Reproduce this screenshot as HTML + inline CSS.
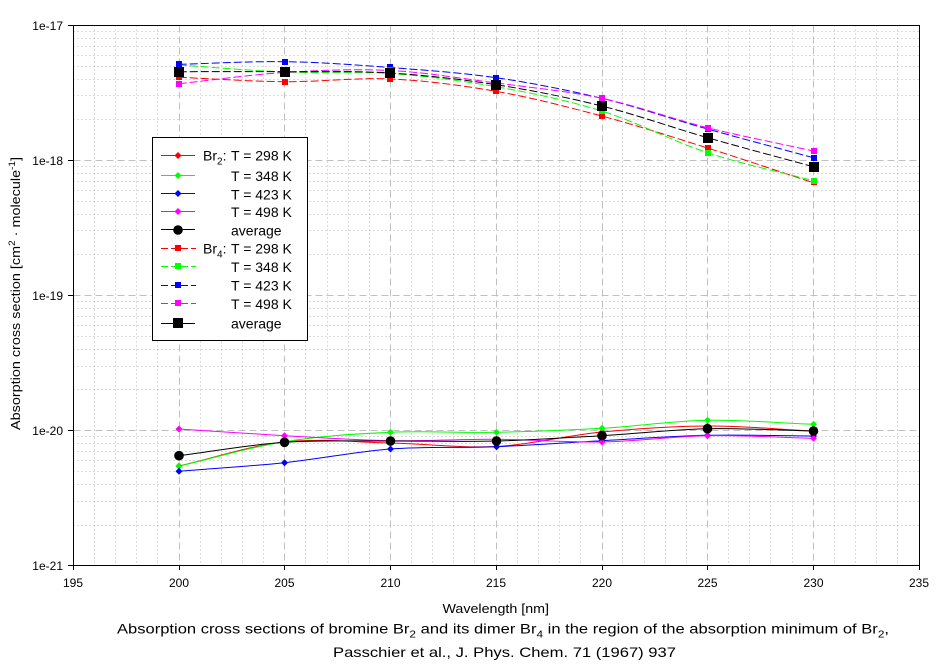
<!DOCTYPE html>
<html><head><meta charset="utf-8"><style>
html,body{margin:0;padding:0;background:#fff;}
svg{display:block;font-family:"Liberation Sans",Arial,sans-serif;}
</style></head><body>
<svg width="944" height="670" viewBox="0 0 944 670" xmlns="http://www.w3.org/2000/svg">
<rect width="944" height="670" fill="#fff"/>
<!-- minor grid -->
<g stroke="#b8b8b8" stroke-width="1" stroke-dasharray="1,3" fill="none" shape-rendering="crispEdges">
<path d="M94.5 25.5V565.5M115.5 25.5V565.5M136.5 25.5V565.5M157.5 25.5V565.5M200.5 25.5V565.5M221.5 25.5V565.5M242.5 25.5V565.5M263.5 25.5V565.5M305.5 25.5V565.5M327.5 25.5V565.5M348.5 25.5V565.5M369.5 25.5V565.5M411.5 25.5V565.5M432.5 25.5V565.5M453.5 25.5V565.5M474.5 25.5V565.5M517.5 25.5V565.5M538.5 25.5V565.5M559.5 25.5V565.5M580.5 25.5V565.5M622.5 25.5V565.5M644.5 25.5V565.5M665.5 25.5V565.5M686.5 25.5V565.5M728.5 25.5V565.5M749.5 25.5V565.5M770.5 25.5V565.5M792.5 25.5V565.5M834.5 25.5V565.5M855.5 25.5V565.5M876.5 25.5V565.5M897.5 25.5V565.5"/>
<path d="M73.5 525.5H919.5M73.5 501.5H919.5M73.5 484.5H919.5M73.5 471.5H919.5M73.5 460.5H919.5M73.5 451.5H919.5M73.5 443.5H919.5M73.5 436.5H919.5M73.5 389.5H919.5M73.5 366.5H919.5M73.5 349.5H919.5M73.5 336.5H919.5M73.5 325.5H919.5M73.5 316.5H919.5M73.5 308.5H919.5M73.5 301.5H919.5M73.5 254.5H919.5M73.5 230.5H919.5M73.5 214.5H919.5M73.5 201.5H919.5M73.5 190.5H919.5M73.5 181.5H919.5M73.5 173.5H919.5M73.5 166.5H919.5M73.5 119.5H919.5M73.5 95.5H919.5M73.5 79.5H919.5M73.5 66.5H919.5M73.5 55.5H919.5M73.5 46.5H919.5M73.5 38.5H919.5M73.5 31.5H919.5"/>
</g>
<!-- major grid -->
<g stroke="#c0c0c0" stroke-width="1" stroke-dasharray="7,4" fill="none" shape-rendering="crispEdges">
<path d="M179.5 25.5V565.5M284.5 25.5V565.5M390.5 25.5V565.5M496.5 25.5V565.5M602.5 25.5V565.5M707.5 25.5V565.5M813.5 25.5V565.5"/>
<path d="M73.5 160.5H919.5M73.5 295.5H919.5M73.5 430.5H919.5"/>
</g>

<!-- Br2 series (solid) -->
<g fill="none" stroke-width="1">
<path stroke="#ff0000" d="M178.75 466C214 458 249.3 445.8 284.5 442C319.8 438.2 355 442.25 390.25 443C425.5 443.75 460.8 448.3 496 446.5C531.3 444.7 566.5 435.4 601.75 432C637 428.6 672.3 426.2 707.5 426C742.8 425.8 778 429.3 813.25 431"/>
<path stroke="#00ff00" d="M178.75 466.3C214 458.1 249.3 447.4 284.5 441.7C319.8 436 355 433.9 390.25 432.3C425.5 430.7 460.8 433 496 432.3C531.3 431.6 566.5 430.3 601.75 428.3C637 426.3 672.3 421 707.5 420.3C742.8 419.6 778 423 813.25 424.3"/>
<path stroke="#0000ff" d="M178.75 471.3C214 468.4 249.3 466.4 284.5 462.7C319.8 459 355 451.7 390.25 449C425.5 446.3 460.8 448.1 496 446.7C531.3 445.3 566.5 442.6 601.75 440.7C637 438.8 672.3 436.1 707.5 435.3C742.8 434.5 778 435.8 813.25 436"/>
<path stroke="#ff00ff" d="M178.75 429C214 431.2 249.3 433.75 284.5 435.7C319.8 437.65 355 440.1 390.25 440.7C425.5 441.3 460.8 439.1 496 439.3C531.3 439.5 566.5 442.6 601.75 442C637 441.4 672.3 436.3 707.5 435.7C742.8 435.1 778 437.4 813.25 438.3"/>
<path stroke="#000000" d="M178.75 455.7C214 451.2 249.3 444.75 284.5 442.3C319.8 439.85 355 441.2 390.25 441C425.5 440.8 460.8 441.9 496 441C531.3 440.1 566.5 437.75 601.75 435.7C637 433.65 672.3 429.5 707.5 428.7C742.8 427.9 778 430.2 813.25 431"/>
</g>
<!-- Br4 series (dashed) -->
<g fill="none" stroke-width="1" stroke-dasharray="8,3">
<path stroke="#ff0000" d="M178.75 77.3C214 78.8 249.3 81.4 284.5 81.7C319.8 82 355 77.4 390.25 79C425.5 80.6 460.8 85.1 496 91.3C531.3 97.5 566.5 106.6 601.75 116C637 125.5 672.3 136.9 707.5 148C742.8 159.1 778 171.1 813.25 182.7"/>
<path stroke="#00ff00" d="M178.75 65C214 67.3 249.3 70.6 284.5 72C319.8 73.4 355 71.1 390.25 73.5C425.5 76 460.8 80.5 496 86.7C531.3 93 566.5 100 601.75 111C637 122 672.3 141.1 707.5 152.7C742.8 164.3 778 171.4 813.25 180.7"/>
<path stroke="#0000ff" d="M178.75 64.3C214 63.4 249.3 61.2 284.5 61.7C319.8 62.2 355 64.8 390.25 67.5C425.5 70.2 460.8 72.6 496 77.7C531.3 82.8 566.5 89.8 601.75 98.3C637 106.9 672.3 119.1 707.5 129C742.8 138.9 778 148.1 813.25 157.7"/>
<path stroke="#ff00ff" d="M178.75 83.7C214 80 249.3 74.7 284.5 72.5C319.8 70.3 355 68.75 390.25 70.5C425.5 72.25 460.8 78.4 496 83C531.3 87.6 566.5 90.9 601.75 98.3C637 105.8 672.3 118.9 707.5 127.7C742.8 136.5 778 143.2 813.25 151"/>
<path stroke="#000000" d="M178.75 71.7C214 71.7 249.3 71.5 284.5 71.7C319.8 71.9 355 70.8 390.25 73C425.5 75.2 460.8 79.2 496 84.7C531.3 90.2 566.5 97.2 601.75 106C637 114.8 672.3 127.6 707.5 137.7C742.8 147.8 778 157 813.25 166.7"/>
</g>

<!-- Br2 markers: diamonds -->
<g fill="#ff0000">
<path d="M179 462.5l3.5 3.5-3.5 3.5-3.5-3.5zM284.5 438.5l3.5 3.5-3.5 3.5-3.5-3.5zM390.5 439.5l3.5 3.5-3.5 3.5-3.5-3.5zM496.5 443l3.5 3.5-3.5 3.5-3.5-3.5zM602 428.5l3.5 3.5-3.5 3.5-3.5-3.5zM707.5 422.5l3.5 3.5-3.5 3.5-3.5-3.5zM813.5 427.5l3.5 3.5-3.5 3.5-3.5-3.5z"/>
</g>
<g fill="#00ff00">
<path d="M179 462.8l3.5 3.5-3.5 3.5-3.5-3.5zM284.5 438.2l3.5 3.5-3.5 3.5-3.5-3.5zM390.5 428.8l3.5 3.5-3.5 3.5-3.5-3.5zM496.5 428.8l3.5 3.5-3.5 3.5-3.5-3.5zM602 424.8l3.5 3.5-3.5 3.5-3.5-3.5zM707.5 416.8l3.5 3.5-3.5 3.5-3.5-3.5zM813.5 420.8l3.5 3.5-3.5 3.5-3.5-3.5z"/>
</g>
<g fill="#0000ff">
<path d="M179 467.8l3.5 3.5-3.5 3.5-3.5-3.5zM284.5 459.2l3.5 3.5-3.5 3.5-3.5-3.5zM390.5 445.5l3.5 3.5-3.5 3.5-3.5-3.5zM496.5 443.2l3.5 3.5-3.5 3.5-3.5-3.5zM602 437.2l3.5 3.5-3.5 3.5-3.5-3.5zM707.5 431.8l3.5 3.5-3.5 3.5-3.5-3.5zM813.5 432.5l3.5 3.5-3.5 3.5-3.5-3.5z"/>
</g>
<g fill="#ff00ff">
<path d="M179 425.5l3.5 3.5-3.5 3.5-3.5-3.5zM284.5 432.2l3.5 3.5-3.5 3.5-3.5-3.5zM390.5 437.2l3.5 3.5-3.5 3.5-3.5-3.5zM496.5 435.8l3.5 3.5-3.5 3.5-3.5-3.5zM602 438.5l3.5 3.5-3.5 3.5-3.5-3.5zM707.5 432.2l3.5 3.5-3.5 3.5-3.5-3.5zM813.5 434.8l3.5 3.5-3.5 3.5-3.5-3.5z"/>
</g>
<g fill="#000">
<circle cx="179" cy="455.7" r="4.8"/><circle cx="284.5" cy="442.3" r="4.8"/><circle cx="390.5" cy="441" r="4.8"/><circle cx="496.5" cy="441" r="4.8"/><circle cx="602" cy="435.7" r="4.8"/><circle cx="707.5" cy="428.7" r="4.8"/><circle cx="813.5" cy="431" r="4.8"/>
</g>

<!-- Br4 markers: squares -->
<g shape-rendering="crispEdges">
<g fill="#ff0000"><rect x="176" y="74" width="6" height="6"/><rect x="282" y="79" width="6" height="6"/><rect x="387" y="76" width="6" height="6"/><rect x="493" y="88" width="6" height="6"/><rect x="599" y="113" width="6" height="6"/><rect x="705" y="145" width="6" height="6"/><rect x="811" y="179" width="6" height="6"/></g>
<g fill="#00ff00"><rect x="176" y="62" width="6" height="6"/><rect x="282" y="69" width="6" height="6"/><rect x="387" y="70" width="6" height="6"/><rect x="493" y="84" width="6" height="6"/><rect x="599" y="108" width="6" height="6"/><rect x="705" y="150" width="6" height="6"/><rect x="811" y="178" width="6" height="6"/></g>
<g fill="#0000ff"><rect x="176" y="61" width="6" height="6"/><rect x="282" y="59" width="6" height="6"/><rect x="387" y="64" width="6" height="6"/><rect x="493" y="75" width="6" height="6"/><rect x="599" y="95" width="6" height="6"/><rect x="705" y="126" width="6" height="6"/><rect x="811" y="155" width="6" height="6"/></g>
<g fill="#ff00ff"><rect x="176" y="81" width="6" height="6"/><rect x="282" y="69" width="6" height="6"/><rect x="387" y="67" width="6" height="6"/><rect x="493" y="80" width="6" height="6"/><rect x="599" y="95" width="6" height="6"/><rect x="705" y="125" width="6" height="6"/><rect x="811" y="148" width="6" height="6"/></g>
<g fill="#000"><rect x="174" y="67" width="10" height="10"/><rect x="280" y="67" width="10" height="10"/><rect x="385" y="68" width="10" height="10"/><rect x="491" y="80" width="10" height="10"/><rect x="597" y="101" width="10" height="10"/><rect x="703" y="133" width="10" height="10"/><rect x="809" y="162" width="10" height="10"/></g>
</g>

<!-- axes frame and ticks -->
<g stroke="#000" stroke-width="1" fill="none" shape-rendering="crispEdges">
<rect x="73.5" y="25.5" width="846" height="540"/>
<path d="M68 25.5H73.5M68 160.5H73.5M68 295.5H73.5M68 430.5H73.5M68 565.5H73.5"/>
<path d="M73.5 565.5V570M179.5 565.5V570M284.5 565.5V570M390.5 565.5V570M496.5 565.5V570M602.5 565.5V570M707.5 565.5V570M813.5 565.5V570M919.5 565.5V570"/>
</g>

<!-- tick labels -->
<g font-size="12" fill="#000" text-anchor="end">
<text x="63" y="30">1e-17</text>
<text x="63" y="165">1e-18</text>
<text x="63" y="300">1e-19</text>
<text x="63" y="435">1e-20</text>
<text x="63" y="570">1e-21</text>
</g>
<g font-size="12" fill="#000" text-anchor="middle">
<text x="73" y="587">195</text>
<text x="179" y="587">200</text>
<text x="284.5" y="587">205</text>
<text x="390.5" y="587">210</text>
<text x="496" y="587">215</text>
<text x="602" y="587">220</text>
<text x="707.5" y="587">225</text>
<text x="813.5" y="587">230</text>
<text x="919" y="587">235</text>
</g>

<!-- axis titles -->
<text x="442.5" y="613" font-size="13" textLength="106.5" lengthAdjust="spacingAndGlyphs">Wavelength [nm]</text>
<text transform="translate(20,430) rotate(-90)" x="0" y="0" font-size="13" textLength="273" lengthAdjust="spacingAndGlyphs">Absorption cross section [cm<tspan font-size="9" dy="-5">2</tspan><tspan dy="5"> · molecule</tspan><tspan font-size="9" dy="-5">-1</tspan><tspan dy="5">]</tspan></text>

<!-- caption -->
<text x="117" y="633.5" font-size="14" textLength="772" lengthAdjust="spacingAndGlyphs">Absorption cross sections of bromine Br<tspan font-size="10" dy="4">2</tspan><tspan dy="-4"> and its dimer Br</tspan><tspan font-size="10" dy="4">4</tspan><tspan dy="-4"> in the region of the absorption minimum of Br</tspan><tspan font-size="10" dy="4">2</tspan><tspan dy="-4">,</tspan></text>
<text x="333" y="657" font-size="14" textLength="343" lengthAdjust="spacingAndGlyphs">Passchier et al., J. Phys. Chem. 71 (1967) 937</text>

<!-- legend -->
<rect x="152.5" y="137.5" width="155" height="203" fill="#fff" stroke="#000" stroke-width="1" shape-rendering="crispEdges"/>
<g stroke-width="1" fill="none" shape-rendering="crispEdges">
<path stroke="#ff0000" d="M161 155.5H195"/>
<path stroke="#00ff00" d="M161 175.5H195"/>
<path stroke="#0000ff" d="M161 193.5H195"/>
<path stroke="#ff00ff" d="M161 211.5H195"/>
<path stroke="#000" d="M161 229.5H195"/>
<path stroke="#ff0000" stroke-dasharray="7,3" d="M161 248.5H196"/>
<path stroke="#00ff00" stroke-dasharray="7,3" d="M161 266.5H196"/>
<path stroke="#0000ff" stroke-dasharray="7,3" d="M161 285.5H196"/>
<path stroke="#ff00ff" stroke-dasharray="7,3" d="M161 303.5H196"/>
<path stroke="#000" d="M161 323.5H195"/>
</g>
<path fill="#ff0000" d="M178 152l3.5 3.5-3.5 3.5-3.5-3.5z"/>
<path fill="#00ff00" d="M178 172l3.5 3.5-3.5 3.5-3.5-3.5z"/>
<path fill="#0000ff" d="M178 190l3.5 3.5-3.5 3.5-3.5-3.5z"/>
<path fill="#ff00ff" d="M178 208l3.5 3.5-3.5 3.5-3.5-3.5z"/>
<circle cx="178" cy="230" r="4.8" fill="#000"/>
<g shape-rendering="crispEdges">
<rect x="175" y="245" width="6" height="6" fill="#ff0000"/>
<rect x="175" y="263" width="6" height="6" fill="#00ff00"/>
<rect x="175" y="282" width="6" height="6" fill="#0000ff"/>
<rect x="175" y="300" width="6" height="6" fill="#ff00ff"/>
<rect x="173" y="318" width="10" height="10" fill="#000"/>
</g>
<g font-size="14" fill="#000">
<text x="203" y="160.5">Br<tspan font-size="10" dy="4">2</tspan><tspan dy="-4">:</tspan></text>
<text x="231" y="160.5">T = 298 K</text>
<text x="231" y="181">T = 348 K</text>
<text x="231" y="199.5">T = 423 K</text>
<text x="231" y="217">T = 498 K</text>
<text x="231" y="235.5">average</text>
<text x="203" y="253.5">Br<tspan font-size="10" dy="4">4</tspan><tspan dy="-4">:</tspan></text>
<text x="231" y="253.5">T = 298 K</text>
<text x="231" y="272">T = 348 K</text>
<text x="231" y="290.5">T = 423 K</text>
<text x="231" y="309">T = 498 K</text>
<text x="231" y="328.5">average</text>
</g>
</svg>
</body></html>
